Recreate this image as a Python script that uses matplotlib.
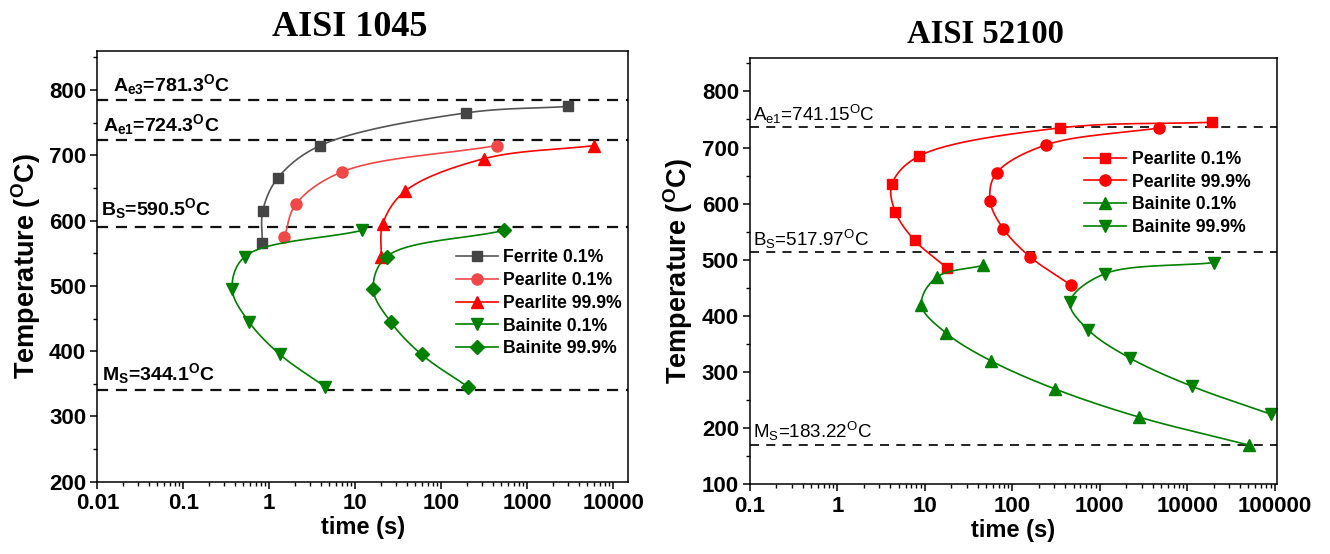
import numpy as np
import matplotlib
matplotlib.use("Agg")
import matplotlib.pyplot as plt
from matplotlib.ticker import FixedLocator, FixedFormatter, LogLocator, MultipleLocator, NullFormatter

plt.rcParams["font.family"] = ["Liberation Sans", "DejaVu Sans"]
plt.rcParams["mathtext.fontset"] = "custom"
plt.rcParams["mathtext.rm"] = "Liberation Sans"
plt.rcParams["mathtext.bf"] = "Liberation Sans:bold"
plt.rcParams["mathtext.it"] = "Liberation Sans:italic"

## AISI 1045 (left) ##
ferrite01_t = [0.83, 0.84, 1.25, 3.9, 192, 3000]
ferrite01_T = [565, 615, 665, 715, 765, 775]
pearlite01_t = [1.5, 2.03, 7.1, 440]
pearlite01_T = [575, 625, 675, 715]
pearlite999_t = [20, 20.9, 37.8, 316, 6000]
pearlite999_T = [545, 595, 645, 695, 715]
bainite01_t = [4.5, 1.33, 0.58, 0.37, 0.52, 12]
bainite01_T = [345, 395, 445, 495, 545, 585]
bainite999_t = [206, 59, 25.8, 16.2, 23.2, 540]
bainite999_T = [345, 395, 445, 495, 545, 585]
left_lines_T = [785, 724, 590, 341]
left_lines_txt = [r"A$_{\mathbf{e3}}$=781.3$^{\mathbf{O}}$C", r"A$_{\mathbf{e1}}$=724.3$^{\mathbf{O}}$C",
                  r"B$_{\mathbf{S}}$=590.5$^{\mathbf{O}}$C", r"M$_{\mathbf{S}}$=344.1$^{\mathbf{O}}$C"]
left_xticks = [0.01, 0.1, 1, 10, 100, 1000, 10000]
left_xlabels = ["0.01", "0.1", "1", "10", "100", "1000", "10000"]
left_yticks = [200, 300, 400, 500, 600, 700, 800]

## AISI 52100 (right) ##
r_pearlite01_t = [18, 7.6, 4.6, 4.2, 8.6, 348, 19000]
r_pearlite01_T = [485, 535, 585, 635, 685, 735, 745]
r_pearlite999_t = [466, 160, 79, 55.6, 66, 245, 4800]
r_pearlite999_T = [455, 505, 555, 605, 655, 705, 735]
r_bainite01_t = [50800, 2790, 307, 57, 17.3, 9.1, 13.9, 46]
r_bainite01_T = [170, 220, 270, 320, 370, 420, 470, 490]
r_bainite999_t = [90000, 11200, 2210, 738, 456, 1130, 20100]
r_bainite999_T = [225, 275, 325, 375, 425, 475, 495]
right_lines_T = [737, 514, 171]
right_lines_txt = [r"A$_{\mathrm{e1}}$=741.15$^{\mathrm{O}}$C", r"B$_{\mathrm{S}}$=517.97$^{\mathrm{O}}$C",
                   r"M$_{\mathrm{S}}$=183.22$^{\mathrm{O}}$C"]
right_xticks = [0.1, 1, 10, 100, 1000, 10000, 100000]
right_xlabels = ["0.1", "1", "10", "100", "1000", "10000", "100000"]
right_yticks = [100, 200, 300, 400, 500, 600, 700, 800]


def smooth(t, T, n=24):
    # centripetal catmull-rom through the points, in log(t) / T screen-ish space
    P = np.column_stack([np.log10(t), np.asarray(T, float) / 130.0])
    P = np.vstack([2 * P[0] - P[1], P, 2 * P[-1] - P[-2]])
    out = []
    for i in range(1, len(P) - 2):
        p0, p1, p2, p3 = P[i - 1], P[i], P[i + 1], P[i + 2]
        t0 = 0.0
        t1 = t0 + np.linalg.norm(p1 - p0) ** 0.5
        t2 = t1 + np.linalg.norm(p2 - p1) ** 0.5
        t3 = t2 + np.linalg.norm(p3 - p2) ** 0.5
        u = np.linspace(t1, t2, n, endpoint=False)[:, None]
        a1 = (t1 - u) / (t1 - t0) * p0 + (u - t0) / (t1 - t0) * p1
        a2 = (t2 - u) / (t2 - t1) * p1 + (u - t1) / (t2 - t1) * p2
        a3 = (t3 - u) / (t3 - t2) * p2 + (u - t2) / (t3 - t2) * p3
        b1 = (t2 - u) / (t2 - t0) * a1 + (u - t0) / (t2 - t0) * a2
        b2 = (t3 - u) / (t3 - t1) * a2 + (u - t1) / (t3 - t1) * a3
        out.append((t2 - u) / (t2 - t1) * b1 + (u - t1) / (t2 - t1) * b2)
    out.append(P[-2][None, :])
    c = np.vstack(out)
    marks = [k * n for k in range(len(t))]
    return 10 ** c[:, 0], c[:, 1] * 130.0, marks


def curve(ax, t, T, color, marker, label, ms=7, mcolor=None):
    x, y, marks = smooth(t, T)
    ax.plot(x, y, color=color, lw=1.2, marker=marker, markevery=marks, ms=ms,
            mfc=mcolor or color, mec=mcolor or color, label=label)


def style_axis(ax, xlim, ylim, xticks, xlabels, yticks):
    ax.set_xscale("log")
    ax.set_xlim(*xlim)
    ax.set_ylim(*ylim)
    ax.xaxis.set_major_locator(FixedLocator(xticks))
    ax.xaxis.set_major_formatter(FixedFormatter(xlabels))
    ax.xaxis.set_minor_locator(LogLocator(base=10, subs=np.arange(2, 10)))
    ax.xaxis.set_minor_formatter(NullFormatter())
    ax.yaxis.set_major_locator(FixedLocator(yticks))
    ax.yaxis.set_minor_locator(MultipleLocator(50))
    ax.tick_params(which="major", direction="out", length=5, width=1.1, labelsize=16, pad=3)
    ax.tick_params(which="minor", direction="out", length=3, width=1.0)
    for lab in ax.get_xticklabels() + ax.get_yticklabels():
        lab.set_fontweight("bold")
    for s in ax.spines.values():
        s.set_linewidth(1.1)
    ax.set_xlabel("time (s)", fontsize=17, fontweight="bold")
    ax.set_ylabel(r"Temperature ($^{\mathbf{O}}$C)", fontsize=19.5, fontweight="bold")


fig = plt.figure(figsize=(13.3, 5.54), dpi=100)
ax1 = fig.add_axes([0.0732, 0.1305, 0.3992, 0.7775])
ax2 = fig.add_axes([0.5639, 0.1256, 0.396, 0.7702])

# left panel
for T in left_lines_T:
    ax1.axhline(T, color="#111111", lw=1.6, ls=(0, (5, 3.5)), zorder=1)
left_txt_pos = [(0.030, 789), (0.010, 728), (0.006, 600), (0.008, 346)]
for (xp, yp), s in zip(left_txt_pos, left_lines_txt):
    ax1.text(xp, yp, s, transform=ax1.get_yaxis_transform(), fontsize=14,
             fontweight="bold", va="bottom", ha="left")
curve(ax1, ferrite01_t, ferrite01_T, "#555555", "s", "Ferrite 0.1%", mcolor="#444444")
curve(ax1, pearlite01_t, pearlite01_T, "#f04848", "o", "Pearlite 0.1%", ms=8)
curve(ax1, pearlite999_t, pearlite999_T, "#ff0000", "^", "Pearlite 99.9%", ms=8)
curve(ax1, bainite01_t, bainite01_T, "#008000", "v", "Bainite 0.1%", ms=8)
curve(ax1, bainite999_t, bainite999_T, "#008000", "D", "Bainite 99.9%", ms=7)
style_axis(ax1, (0.01, 15000), (200, 860), left_xticks, left_xlabels, left_yticks)
ax1.yaxis.set_label_coords(-0.102, 0.5)
ax1.xaxis.set_label_coords(0.5, -0.08)
ax1.legend(loc="upper left", bbox_to_anchor=(0.675, 0.540), frameon=False,
           borderpad=0, borderaxespad=0, handlelength=2.4, handletextpad=0.3,
           labelspacing=0.33, prop={"weight": "bold", "size": 12.7})

# right panel
for T in right_lines_T:
    ax2.axhline(T, color="#111111", lw=1.3, ls=(0, (5, 4)), zorder=1)
for T, s in zip(right_lines_T, right_lines_txt):
    ax2.text(0.006, T + 2, s, transform=ax2.get_yaxis_transform(), fontsize=13.5,
             va="bottom", ha="left")
curve(ax2, r_pearlite01_t, r_pearlite01_T, "#ff0000", "s", "Pearlite 0.1%")
curve(ax2, r_pearlite999_t, r_pearlite999_T, "#ff0000", "o", "Pearlite 99.9%", ms=8)
curve(ax2, r_bainite01_t, r_bainite01_T, "#008000", "^", "Bainite 0.1%", ms=8)
curve(ax2, r_bainite999_t, r_bainite999_T, "#008000", "v", "Bainite 99.9%", ms=8)
style_axis(ax2, (0.1, 1.05e5), (100, 860), right_xticks, right_xlabels, right_yticks)
ax2.yaxis.set_label_coords(-0.104, 0.5)
ax2.xaxis.set_label_coords(0.5, -0.08)
ax2.legend(loc="upper left", bbox_to_anchor=(0.634, 0.782), frameon=False,
           borderpad=0, borderaxespad=0, handlelength=2.4, handletextpad=0.3,
           labelspacing=0.33, prop={"weight": "bold", "size": 12.7})

fig.text(0.263, 0.951, "AISI 1045", family="Liberation Serif", fontweight="bold",
         fontsize=26, ha="center", va="center")
fig.text(0.741, 0.937, "AISI 52100", family="Liberation Serif", fontweight="bold",
         fontsize=23.5, ha="center", va="center")

fig.savefig("out.png", dpi=100)
